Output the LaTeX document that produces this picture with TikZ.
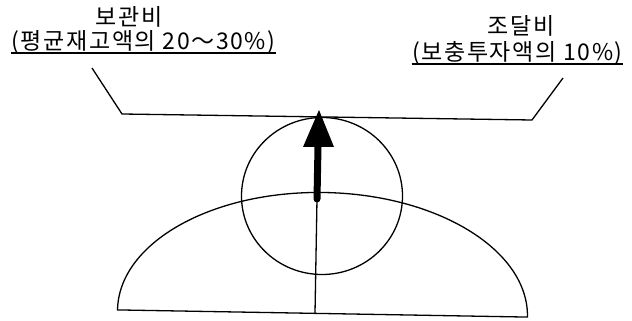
\documentclass[tikz,border=0pt]{standalone}
\usepackage{fontspec}
\newfontfamily\kr[LetterSpace=7]{Noto Sans CJK KR}
\begin{document}
\begin{tikzpicture}[x=1pt,y=1pt,line width=1.3pt,
  lbl/.style={font=\kr\fontsize{23}{25}\selectfont, inner sep=0pt, anchor=center}]
\useasboundingbox (0,0) rectangle (632,321);
% labels
\node[lbl] (t1) at (129,304) {보관비};
\node[lbl] (t2) at (143.5,279) {(평균재고액의 20～30\%)};
\node[lbl] (t3) at (521,295) {조달비};
\node[lbl] (t4) at (517.5,268) {(보충투자액의 10\%)};
\draw (t2.west |- 0,268) -- (t2.east |- 0,268);
\draw (t4.west |- 0,257) -- (t4.east |- 0,257);
% beam with leaders
\coordinate (la) at (92,253);
\coordinate (lb) at (122,207);
\coordinate (rb) at (532,201);
\coordinate (ra) at (563,243);
\draw (la) -- (lb) -- (rb) -- (ra);
% dial circle
\coordinate (cc) at (322,125);
\draw (cc) ellipse [x radius=80.5, y radius=78.5];
% base dome
\begin{scope}[shift={(322.5,7.5)}, rotate=-1]
  \coordinate (dl) at (-205,0);
  \coordinate (dr) at (205,0);
  \coordinate (foot) at (-7.5,0);
  \draw (dl) arc[start angle=180, end angle=0, x radius=205, y radius=121] -- cycle;
\end{scope}
% pointer
\coordinate (tip) at (319,211);
\coordinate (hb) at (318,174);
\coordinate (pb) at (317,122);
\fill (tip) -- (303,174) -- (334,174) -- cycle;
\draw[line width=7pt, line cap=round] (hb) -- (pb);
\draw (pb) -- (foot);
\end{tikzpicture}
\end{document}
